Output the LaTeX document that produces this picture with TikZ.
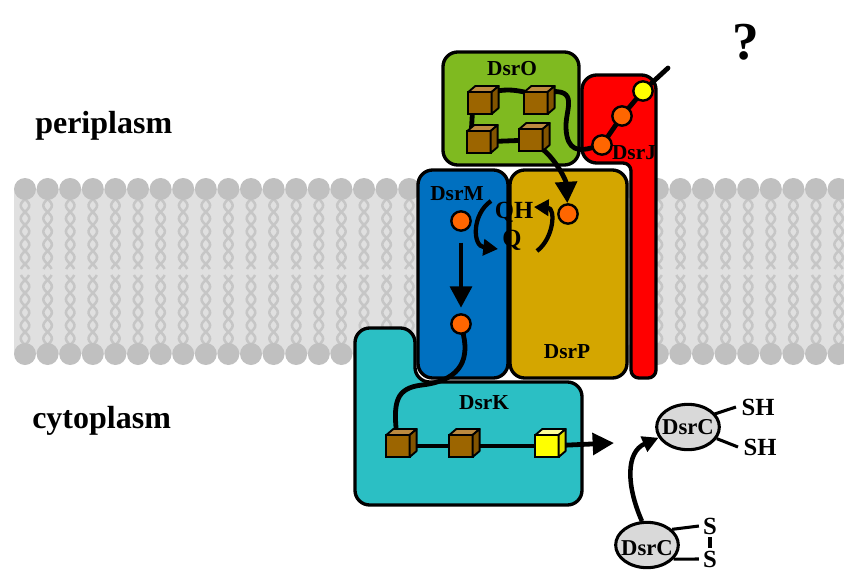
\documentclass[tikz,border=0pt]{standalone}
\usepackage{fontspec}
\setmainfont{Liberation Serif}
\usetikzlibrary{arrows.meta,shapes.geometric}

\pgfdeclarelayer{membrane}
\pgfdeclarelayer{proteins}
\pgfdeclarelayer{links}
\pgfsetlayers{membrane,proteins,links,main}

\definecolor{memfill}{HTML}{E0E0E0}
\definecolor{memhead}{HTML}{C0C0C0}
\definecolor{memtail}{HTML}{C6C6C6}
\definecolor{dsrOcol}{HTML}{7FBA20}
\definecolor{dsrJcol}{HTML}{FF0000}
\definecolor{dsrMcol}{HTML}{0070C0}
\definecolor{dsrPcol}{HTML}{D4A600}
\definecolor{dsrKcol}{HTML}{2BBFC4}
\definecolor{hemecol}{HTML}{FF6600}
\definecolor{fesfront}{HTML}{9C6500}
\definecolor{festop}{HTML}{BC8A40}
\definecolor{fesside}{HTML}{825400}
\definecolor{yelfront}{HTML}{FFFF00}
\definecolor{yeltop}{HTML}{FFFF99}
\definecolor{yelside}{HTML}{E2E200}
\definecolor{dsrCcol}{HTML}{D9D9D9}

\tikzset{
  tail/.style={draw=memtail, line width=1.9pt},
  prot/.style={draw=black, line width=2.5pt, rounded corners=11pt},
  protlab/.style={font=\fontsize{16}{16}\selectfont\bfseries, inner sep=1pt},
  heme/.style={circle, draw=black, fill=hemecol, line width=1.8pt, minimum size=14.5pt, inner sep=0pt},
  hemeY/.style={heme, fill=yelfront},
  fesbox/.style={rectangle, draw=black, line width=1.4pt, fill=fesfront, minimum width=17.5pt, minimum height=16.5pt, inner sep=0pt, outer sep=0pt},
  fesyel/.style={fesbox, fill=yelfront},
  chain/.style={draw=black, line width=3.6pt, line cap=round},
  bigarrow/.style={draw=black, line width=3.6pt, -{Triangle[length=16pt,width=16pt]}},
  qarrow/.style={draw=black, line width=3.2pt, -{Triangle[length=11pt,width=12pt]}},
  carrow/.style={draw=black, line width=3.4pt, -{Triangle[length=12pt,width=12pt]}},
  dsrc/.style={ellipse, draw=black, fill=dsrCcol, line width=2.3pt, minimum width=47pt, minimum height=34pt, inner sep=0pt},
  clab/.style={font=\fontsize{17}{17}\selectfont\bfseries, inner sep=0pt},
  slab/.style={font=\fontsize{18.5}{19}\selectfont\bfseries, inner sep=2pt},
  bond/.style={draw=black, line width=2.3pt},
  region/.style={font=\fontsize{24}{24}\selectfont\bfseries, inner sep=0pt, anchor=base west},
}

% top and side faces of a cluster cube drawn on a front-face node
\newcommand\fesfaces[3]{%
  \filldraw[draw=black, line width=1.4pt, line join=round, fill=#2]
    (#1.north west) -- ++(7,-6) -- ([shift={(7,-6)}]#1.north east) -- (#1.north east) -- cycle;
  \filldraw[draw=black, line width=1.4pt, line join=round, fill=#3]
    (#1.north east) -- ++(7,-6) -- ([shift={(7,-6)}]#1.south east) -- (#1.south east) -- cycle;}

\begin{document}
\begin{tikzpicture}[x=0.75pt, y=-0.75pt]
\useasboundingbox (0,0) rectangle (844,572);

% ---------- lipid bilayer ----------
\begin{pgfonlayer}{membrane}
  \fill[memfill] (14,189) rectangle (844,354);
  \foreach \i in {0,...,36}{
    \pgfmathsetmacro\xx{25+22.6*\i}
    \foreach \s in {1,-1}{
      \draw[tail] plot[domain=199:269, samples=36, variable=\t]
        ({\xx+(\s)*4.3*sin((\t-199)*13.846)}, \t);
      \draw[tail] plot[domain=275:345, samples=36, variable=\t]
        ({\xx+(\s)*4.3*sin((345-\t)*13.846)}, \t);
    }
    \fill[memhead] (\xx,189) circle[radius=11];
    \fill[memhead] (\xx,354) circle[radius=11];
  }
\end{pgfonlayer}

% ---------- protein subunits ----------
\begin{pgfonlayer}{proteins}
  \draw[prot, fill=dsrKcol] (355,505) -- (355,328) -- (415,328) -- (415,382)
        -- (582,382) -- (582,505) -- cycle;
  \draw[prot, fill=dsrMcol] (418,170) rectangle (508,378);
  \draw[prot, fill=dsrPcol] (510,170) rectangle (627,378);
  \draw[prot, fill=dsrJcol] (582,75) -- (656,75) [rounded corners=6pt] -- (656,378)
        -- (631,378) -- (631,163) [rounded corners=11pt] -- (582,163) -- cycle;
  \draw[prot, fill=dsrOcol] (443,52) rectangle (579,165);
\end{pgfonlayer}

% ---------- labels ----------
\node[protlab] (labO) at (512,69) {DsrO};
\node[protlab] (labJ) at (634,153) {DsrJ};
\node[protlab] (labM) at (457,194) {DsrM};
\node[protlab] (labP) at (567,352) {DsrP};
\node[protlab] (labK) at (484,403) {DsrK};
\node[font=\fontsize{18.5}{19}\selectfont\bfseries, inner sep=0pt] (qh) at (514,212) {QH};
\node[font=\fontsize{18.5}{19}\selectfont\bfseries, inner sep=0pt] (q) at (512,240) {Q};
\node[region] (peri) at (35,133) {periplasm};
\node[region] (cyto) at (32,428) {cytoplasm};
\node[font=\fontsize{40}{40}\selectfont\bfseries, inner sep=0pt] (qm) at (746,42) {?};

% ---------- hemes ----------
\node[heme]  (j1) at (602,145) {};
\node[heme]  (j2) at (622,116) {};
\node[hemeY] (j3) at (643,91) {};
\coordinate (jend) at (668,68);
\node[heme]  (m1) at (461,221) {};
\node[heme]  (m2) at (461,324) {};
\node[heme]  (p1) at (568,214) {};

% ---------- iron-sulfur clusters ----------
\node[fesbox] (o1) at (480,103) {};
\node[fesbox] (o2) at (536,103) {};
\node[fesbox] (o3) at (479,142) {};
\node[fesbox] (o4) at (531,140) {};
\node[fesbox] (k1) at (398,446) {};
\node[fesbox] (k2) at (461,446) {};
\node[fesyel] (k3) at (547,446) {};
\fesfaces{o1}{festop}{fesside}
\fesfaces{o2}{festop}{fesside}
\fesfaces{o3}{festop}{fesside}
\fesfaces{o4}{festop}{fesside}
\fesfaces{k1}{festop}{fesside}
\fesfaces{k2}{festop}{fesside}
\fesfaces{k3}{yeltop}{yelside}
\coordinate (kout) at (614,443);

% ---------- DsrC ----------
\node[dsrc] (c1) at (688,427) {};
\node[clab] (c1lab) at (c1) {DsrC};
\node[dsrc] (c2) at (647,545) {};
\node[clab] (c2lab) at (647,548) {DsrC};
\node[slab] (sh1) at (758,407) {SH};
\node[slab] (sh2) at (760,447) {SH};
\node[slab, inner sep=0pt] (s1) at (710,526) {S};
\node[slab, inner sep=0pt] (s2) at (710,559) {S};

% ---------- electron path ----------
\coordinate (qa1) at (491,201);
\coordinate (qa2) at (498,249);
\coordinate (qb1) at (537,251);
\coordinate (qb2) at (534,207);
\begin{pgfonlayer}{links}
  \draw[chain] (o1.north east) to[bend left=12] (o2.north west);
  \draw[chain] ([xshift=3pt]o1.south west) -- ([xshift=3pt]o3.north west);
  \draw[chain] (o3) -- (o4);
  \draw[chain] (o2.north east) .. controls (580,88) and (565,110) .. (566,128)
        .. controls (567,152) and (580,151) .. (j1);
  \draw[chain] (j1) -- (j2) -- (j3) -- (jend);
  \draw[bigarrow] (o4) .. controls (556,160) and (566,180) .. (p1);
  \draw[bigarrow, shorten <=8pt, shorten >=4pt] (m1) -- (m2);
  \draw[chain] (m2) .. controls (470,364) and (456,381) .. (422,385)
        .. controls (396,388) and (393,402) .. (k1);
  \draw[chain] (k1) -- (k2) -- (k3);
  \draw[bigarrow] (k3) -- (kout);
  \draw[qarrow] (qa1) .. controls (472,214) and (472,246) .. (qa2);
  \draw[qarrow] (qb1) .. controls (554,238) and (556,208) .. (qb2);
  \draw[carrow] (c2.102) .. controls (626,485) and (626,452) .. (c1.200);
  \draw[bond] ([xshift=-1pt]c1.25) -- ([xshift=-2pt]sh1.west);
  \draw[bond] (c1.-22) -- ([xshift=-2pt]sh2.west);
  \draw[bond] (c2.32) -- ([xshift=-3pt]s1.west);
  \draw[bond] (c2.-28) -- ([xshift=-3pt]s2.west);
  \draw[bond, shorten <=2pt, shorten >=2pt] (s1.south) -- (s2.north);
\end{pgfonlayer}

\end{tikzpicture}
\end{document}
